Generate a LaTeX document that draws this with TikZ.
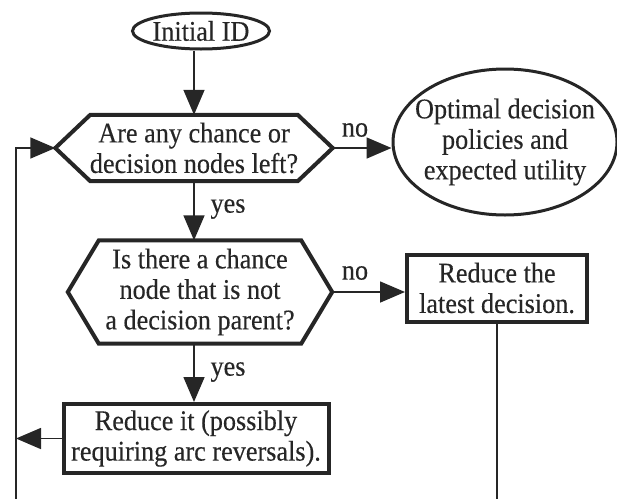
\documentclass[tikz,border=0pt]{standalone}
\usepackage{fontspec}
\setmainfont[FakeStretch=0.92,FakeBold=0.3]{Liberation Serif}
\usetikzlibrary{shapes.geometric,arrows.meta,calc}
\definecolor{ink}{HTML}{262626}
\newcommand\hexdraw[2]{\draw[draw=ink, line width=4pt, line join=miter] (#1.west) -- ([xshift=#2]#1.north west) -- ([xshift=-#2]#1.north east) -- (#1.east) -- ([xshift=-#2]#1.south east) -- ([xshift=#2]#1.south west) -- cycle;}
\begin{document}
\begin{tikzpicture}[x=1pt,y=-1pt,
  every node/.style={font=\fontsize{28.5}{30.5}\selectfont, text=ink, align=center},
  oval/.style={ellipse, draw=ink, line width=3pt, inner sep=-20pt},
  hexnode/.style={rectangle, draw=none, inner sep=0pt},
  boxnode/.style={rectangle, draw=ink, line width=4pt, inner sep=0pt},
  conn/.style={draw=ink, line width=1.6pt},
  arr/.style={conn, -{Triangle[length=25pt,width=21pt]}},
  lbl/.style={inner sep=0pt}]
\useasboundingbox (0,0) rectangle (617,498);
\coordinate (bottom) at (0,499);
\coordinate (bl) at (16,499);
\node[oval, minimum width=137pt, minimum height=36pt] (init) at (201,31) {Initial ID};
\node[hexnode, minimum width=277pt, minimum height=66pt] (h1) at (194,148) {Are any chance or\\decision nodes left?};
\hexdraw{h1}{35pt}
\node[oval, minimum width=224pt, minimum height=146pt] (opt) at (505,142) {Optimal decision\\policies and\\expected utility};
\node[hexnode, minimum width=264pt, minimum height=103pt] (h2) at (200,292) {Is there a chance\\node that is not\\a decision parent?};
\hexdraw{h2}{31pt}
\node[boxnode, minimum width=180pt, minimum height=67pt] (rbox) at (497,288) {Reduce the\\latest decision.};
\node[boxnode, minimum width=265pt, minimum height=69pt] (box2) at (196,438.5) {Reduce it (possibly\\requiring arc reversals).};
\node[lbl] (yes1) at (228,209) {yes};
\node[lbl] (yes2) at (228,372) {yes};
\node[lbl] (no1) at (355,130) {no};
\node[lbl] (no2) at (355,273) {no};
\draw[arr] (init.south -| h1.north) -- (h1.north);
\draw[arr] (h1.south) -- (h1.south |- h2.north);
\draw[arr] (h1.south |- h2.south) -- (h1.south |- box2.north);
\draw[arr] (h1.east) -- (h1.east -| opt.west);
\draw[arr] (h2.east) -- (h2.east -| rbox.west);
\draw[conn] (rbox.south) -- (rbox.south |- bottom);
\draw[arr] (box2.west) -- (box2.west -| bl);
\draw[arr] (bl) |- (h1.west);
\end{tikzpicture}
\end{document}
